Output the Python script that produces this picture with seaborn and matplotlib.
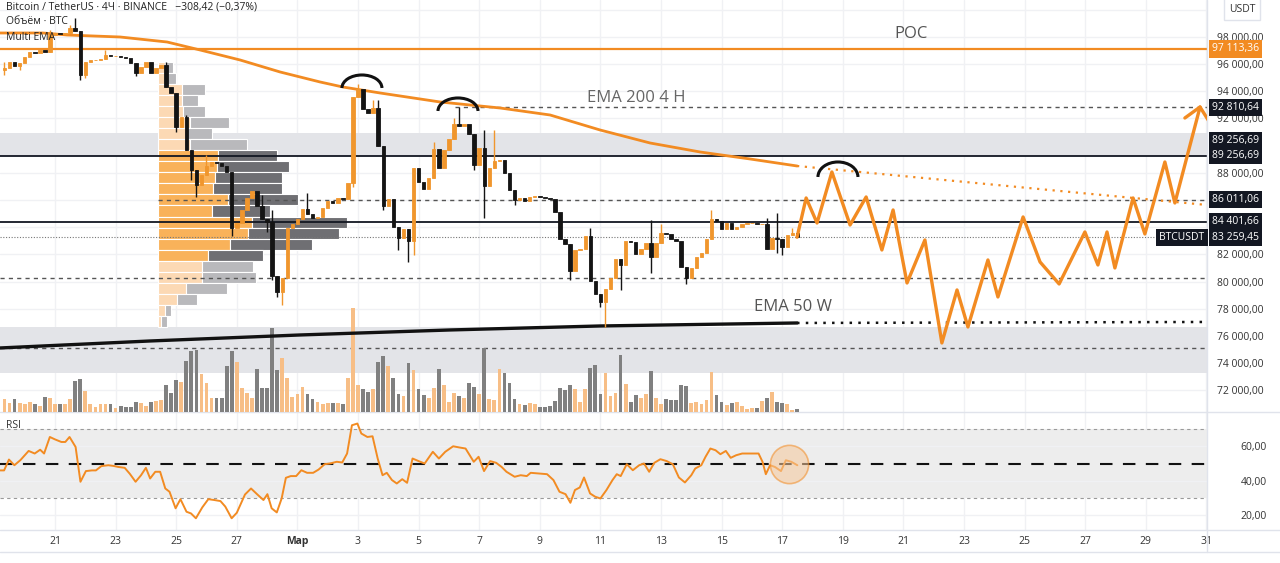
"""
BTC/USDT 4H chart with volume profile, EMAs, RSI and a projected path
"""

import numpy as np
import matplotlib
matplotlib.use('Agg')
import matplotlib.pyplot as plt
import seaborn as sns
from matplotlib.patches import Arc
from matplotlib.lines import Line2D

# ---------------- data ----------------
# time axis: days counted from Feb 0 (Mar 1 = 29)
start_day = 19 + 8 / 24          # first 4h candle
first_open = 95561

closes = [95708, 96149, 95855, 96076, 96517, 96885, 96811, 97032, 96885, 98135,
          98283, 98209, 98283, 98650, 98430, 95193, 96149, 96296, 96296, 96370,
          96664, 96591, 96591, 96517, 96444, 96076, 95340, 95782, 96149, 95340,
          95708, 95929, 94310, 93869, 91368, 92103, 89676, 88205, 87101, 87837,
          88499, 88793, 88720, 88499, 88058, 83938, 84306, 85262, 86145, 86660,
          85557, 84600, 84380, 80407, 79230, 80260, 83938, 84232, 84600, 85336,
          84968, 84674, 84748, 85410, 85925, 85778, 86145, 86071, 87248, 93575,
          94163, 92692, 92398, 92766, 89970, 85557, 86071, 84012, 83203, 83865,
          82982, 88352, 87322, 86807, 87616, 89750, 88352, 89676, 90485, 91589,
          91441, 91589, 90853, 88573, 89823, 87028, 88352, 88867, 88940, 87984,
          86734, 85998, 86145, 85925, 86218, 86292, 86218, 86145, 86071, 85115,
          83129, 82762, 80775, 82320, 82394, 83350, 80040, 79083, 78495, 79451,
          80260, 81658, 81217, 82982, 82908, 82026, 82394, 82835, 81805, 82835,
          83570, 83497, 83129, 82982, 81070, 80260, 80996, 81805, 82099, 83129,
          84600, 84453, 83865, 84306, 83865, 84012, 84232, 84306, 84306, 84232,
          84232, 82394, 83203, 83129, 82541, 83423, 83570, 83259.45]

# visible wicks: candle index -> (high, low); None = no wick on that side
wicks = {0: (96149, 95193), 3: (None, 95561), 9: (98503, None), 13: (98871, None),
         14: (99386, None), 15: (None, 94825), 16: (None, 94972), 20: (97032, None),
         26: (None, 95120), 32: (96149, None), 34: (None, 91000), 36: (92251, None),
         37: (None, 87469), 38: (None, 86218), 40: (89308, None), 45: (None, 83350),
         51: (86366, None), 52: (None, 83644), 53: (85262, 80113), 54: (None, 78863),
         55: (None, 78274), 60: (86513, None), 69: (None, 86955), 70: (94531, None),
         73: (93354, None), 74: (93354, None), 75: (None, 85262), 78: (None, 82320),
         80: (None, 81438), 81: (None, 81952), 85: (90264, None), 89: (92030, None),
         90: (92810.64, None), 92: (91368, None), 93: (None, 88205), 95: (91147, 84674),
         97: (91147, None), 101: (None, 85630), 112: (None, 80113), 116: (83938, None),
         118: (None, 78127), 119: (None, 76656), 122: (None, 79378), 128: (84527, 80628),
         130: (84232, None), 135: (None, 79819), 140: (85262, None), 151: (84674, None),
         153: (85042, 82099), 154: (None, 81952), 156: (83938, None)}

volumes = [1300, 900, 1300, 900, 800, 1000, 800, 600, 1500, 1400,
           800, 800, 800, 1300, 3100, 3300, 2100, 800, 500, 800,
           800, 800, 400, 600, 500, 500, 1000, 900, 600, 1000,
           1100, 1200, 2700, 1900, 3200, 3000, 5100, 6100, 6200, 3800,
           2900, 1400, 1400, 1400, 4600, 6100, 5000, 2400, 1900, 1400,
           4300, 2400, 2400, 8400, 4200, 5400, 3400, 1500, 1800, 2500,
           1800, 1300, 1000, 800, 900, 900, 900, 800, 3400, 10400,
           2700, 2300, 2000, 2300, 5000, 5600, 4600, 3400, 1800, 1600,
           4900, 4200, 2300, 1700, 1400, 2400, 4300, 2700, 1000, 1900,
           1600, 1400, 2900, 2500, 1800, 6400, 1300, 1200, 4300, 3900,
           2900, 1300, 800, 700, 900, 800, 500, 500, 600, 1100,
           2400, 2200, 2700, 2300, 1000, 2300, 4400, 4700, 1800, 3900,
           1600, 1900, 5700, 2800, 1000, 1700, 1400, 1800, 4100, 1400,
           800, 1300, 1200, 1200, 2700, 2600, 900, 1000, 800, 1200,
           4000, 1700, 1000, 700, 900, 1000, 600, 300, 400, 400,
           1100, 1400, 2000, 1000, 900, 800, 200, 300]

# fixed range volume profile (row bottoms, up / down volume)
vp_start = 24.40
vp_levels = [95337, 94525, 93713, 92901, 92089, 91277, 90465, 89652, 88840, 88028,
             87216, 86404, 85592, 84780, 83968, 83156, 82344, 81532, 80720, 79908,
             79095, 78283, 77471, 76659]
vp_up = [700, 700, 2400, 2400, 2500, 3200, 2900, 3200, 6000, 5900,
         5700, 5500, 7000, 5400, 9400, 9000, 7200, 5000, 4400, 4400,
         2800, 1900, 700, 300]
vp_down = [800, 1100, 2300, 1600, 2200, 3900, 2500, 5700, 5900, 7200,
           6700, 6900, 7000, 5800, 9500, 9100, 8200, 5500, 5100, 5400,
           4100, 2000, 600, 600]
vp_value_area = range(8, 18)

ema200_days = [19.18, 20.60, 21.40, 23.15, 24.70, 25.79, 27.11, 28.43, 29.75, 30.50,
               31.73, 33.71, 35.69, 37.34, 38.99, 40.64, 42.29, 43.94, 45.49]
ema200 = [98283, 98283, 98135, 97988, 97620, 97032, 96296, 95414, 94678, 94310,
          93869, 93207, 92765, 92250, 91147, 90190, 89529, 89014, 88499]
ema200_ext = [88499, 85630]

ema50w_days = [19.18, 24.14, 29.09, 34.04, 38.99, 45.49]
ema50w = [75110, 75625, 76067, 76435, 76729, 76950]
ema50w_ext = [76950, 77024]

rsi_days = [19.19, 19.32, 19.48, 19.66, 19.86, 20.13, 20.33, 20.51, 20.64, 20.83,
            21.00, 21.21, 21.34, 21.48, 21.68, 21.84, 22.02, 22.22, 22.35, 22.53,
            22.76, 22.93, 23.09, 23.30, 23.47, 23.66, 23.84, 24.00, 24.14, 24.31,
            24.47, 24.64, 24.78, 24.98, 25.14, 25.34, 25.49, 25.65, 25.86, 26.06,
            26.26, 26.46, 26.62, 26.83, 27.00, 27.27, 27.47, 27.68, 27.88, 28.01,
            28.15, 28.32, 28.48, 28.62, 28.78, 28.96, 29.13, 29.32, 29.52, 29.70,
            29.90, 30.07, 30.30, 30.48, 30.64, 30.80, 30.98, 31.11, 31.31, 31.48,
            31.65, 31.81, 31.95, 32.12, 32.28, 32.46, 32.62, 32.80, 33.00, 33.20,
            33.47, 33.67, 33.88, 34.14, 34.35, 34.55, 34.82, 34.98, 35.16, 35.36,
            35.56, 35.74, 35.90, 36.17, 36.37, 36.57, 36.70, 36.97, 37.24, 37.45,
            37.65, 37.85, 38.01, 38.16, 38.32, 38.46, 38.66, 38.83, 39.00, 39.20,
            39.40, 39.54, 39.67, 39.87, 40.07, 40.28, 40.44, 40.61, 40.78, 40.98,
            41.19, 41.39, 41.59, 41.79, 42.00, 42.13, 42.33, 42.47, 42.63, 42.80,
            42.96, 43.14, 43.30, 43.48, 43.68, 43.95, 44.22, 44.35, 44.46, 44.60,
            44.76, 44.96, 45.12, 45.30, 45.50]
rsi = [46, 46, 52.3, 49, 52, 57.3, 55.8, 58, 55.8, 65.4,
       64, 62.5, 62.5, 65.4, 59.6, 39.4, 45.6, 46, 46, 48.5,
       49, 48.6, 48, 47.5, 44, 39.4, 43.2, 47.5, 41.3, 45.2,
       45.2, 35.5, 33.6, 24, 29.3, 22, 21, 18.2, 24.5, 29.3,
       28.8, 28.2, 25, 18.2, 21.4, 32, 35.5, 32, 28.8, 32.2,
       24, 21.6, 29.7, 41.7, 42.7, 42.7, 46.1, 44.6, 44.6, 46.5,
       49.6, 50, 51, 50.6, 55.8, 72.2, 73.2, 67.4, 65.4, 65.8,
       52.9, 43.2, 44.6, 40.4, 38.4, 40.9, 38.8, 52.9, 51.4, 50,
       56.8, 52.9, 56.8, 60, 59.3, 58.7, 51, 53.9, 45.6, 51.4,
       50.4, 48, 45.2, 42.3, 43.2, 42.7, 44.6, 44.2, 43.8, 40.4,
       33.6, 32.2, 27.2, 34.6, 36.1, 41.9, 32.6, 30.7, 29.7, 34.6,
       40.4, 43.8, 42.7, 49.6, 46.1, 49, 50, 45.2, 50.4, 52.5,
       51.4, 49.6, 41.9, 39, 43.2, 47.1, 49, 53.9, 58.7, 57.7,
       55.4, 57.3, 53.3, 54.8, 55.8, 55.8, 55.8, 51, 43.8, 49,
       48, 45.6, 51.9, 51, 49]

# projected path drawn on the chart
path_days = [45.49, 45.79, 46.15, 46.64, 47.24, 47.77, 48.29, 48.66, 49.12, 49.71,
             50.27, 50.77, 51.13, 51.79, 52.12, 52.95, 53.51, 54.14, 54.99, 55.42,
             55.72, 55.98, 56.58, 56.97, 57.63, 57.96, 58.79, 59.12]
path_prices = [83259, 86145, 84306, 88058, 84159, 86218, 82320, 85262, 79893, 83056,
               75479, 79378, 76656, 81584, 78863, 84748, 81438, 79819, 83644, 81217,
               83644, 80996, 86145, 83497, 88793, 85777, 92839, 91661]

poc = 97113.36
res_high = 92810.64
zone_line = 89256.69
vp_poc = 86011.06
support = 84401.66
last_price = 83259.45
lower_dash = [80260, 75110]
bands = [(89256.69, 90927), (73272, 76656)]

price_ticks = [72000, 74000, 76000, 78000, 80000, 82000, 88000, 92000, 94000, 96000, 98000]
date_ticks = list(range(21, 60, 2))
date_labels = ['21', '23', '25', '27', 'Мар', '3', '5', '7', '9', '11', '13', '15',
               '17', '19', '21', '23', '25', '27', '29', '31']

# ---------------- styling ----------------
sns.set_theme(style='white')
plt.rcParams['font.family'] = ['Open Sans', 'DejaVu Sans']

ORANGE = '#f0962d'
LINE_ORANGE = '#f28b22'
DARK = '#131722'
GRID = '#f0f1f4'
SEP = '#e0e3eb'
BAND = '#e3e4e8'

W, H = 1280, 563
plot_w = 1207 / W
xlim = (19.185, 59.02)
ylim = (70400, 100710)

fig = plt.figure(figsize=(12.8, 5.63), dpi=100)
ax_p = fig.add_axes([0, 151 / H, plot_w, 412 / H])
ax_v = ax_p.twinx()
ax_c = fig.add_axes([0, 151 / H, plot_w, 412 / H], sharex=ax_p, sharey=ax_p)
ax_r = fig.add_axes([0, 33 / H, plot_w, 118 / H], sharex=ax_p)

ax_p.set_zorder(1)
ax_v.set_zorder(2)
ax_c.set_zorder(3)
for a in (ax_v, ax_c):
    a.patch.set_visible(False)
for a in (ax_p, ax_v, ax_c, ax_r):
    for s in a.spines.values():
        s.set_visible(False)

ax_p.set_xlim(*xlim)
ax_p.set_ylim(*ylim)

# ---- background layer: grid, bands, levels, volume profile ----
for d in date_ticks:
    ax_p.axvline(d, color=GRID, lw=1, zorder=0)
    ax_r.axvline(d, color=GRID, lw=1, zorder=0)
for p in range(72000, 100001, 2000):
    ax_p.axhline(p, color=GRID, lw=1, zorder=0)
for lo, hi in bands:
    ax_p.axhspan(lo, hi, color=BAND, lw=0, zorder=0.5)

for i, lvl in enumerate(vp_levels):
    in_va = i in vp_value_area
    c_up = '#f9b25a' if in_va else '#fcd9b4'
    c_dn = '#6f6f73' if in_va else '#b9b9bc'
    w_up = vp_up[i] / 3030
    w_dn = vp_down[i] / 3030
    ax_p.barh(lvl, w_up, height=812, left=vp_start, align='edge',
              color=c_up, edgecolor='white', linewidth=0.8, zorder=1)
    ax_p.barh(lvl, w_dn, height=812, left=vp_start + w_up, align='edge',
              color=c_dn, edgecolor='white', linewidth=0.8, zorder=1)

ax_p.axhline(poc, color=LINE_ORANGE, lw=1.6, zorder=2)
ax_p.axhline(zone_line, color=DARK, lw=1.3, zorder=2)
ax_p.axhline(support, color=DARK, lw=1.3, zorder=2)
ax_p.plot([34.2, xlim[1]], [res_high] * 2, color='#555', lw=1, ls=(0, (3, 3)), zorder=2)
ax_p.plot([vp_start, xlim[1]], [vp_poc] * 2, color='#555', lw=1, ls=(0, (3, 3)), zorder=2)
for p in lower_dash:
    ax_p.axhline(p, color='#555', lw=1, ls=(0, (3, 3)), zorder=2)
ax_p.axhline(last_price, color='#777', lw=0.8, ls=(0, (1, 1.5)), zorder=2)

# ---- volume layer ----
t = start_day + np.arange(len(closes)) / 6
opens = [first_open] + closes[:-1]
is_up = [c >= o for o, c in zip(opens, closes)]
vol_colors = ['#f7be86' if u else '#808080' for u in is_up]
ax_v.bar(t, volumes, width=0.125, color=vol_colors, linewidth=0)
ax_v.set_ylim(0, 41200)

# ---- candles, EMAs, drawings ----
cndl_colors = [ORANGE if u else '#141414' for u in is_up]
bodies = np.array(closes) - np.array(opens)
ax_c.bar(t, bodies, bottom=opens, width=0.115, color=cndl_colors,
         edgecolor=cndl_colors, linewidth=0.6, zorder=4)
for i, (hi, lo) in wicks.items():
    top = hi if hi is not None else max(opens[i], closes[i])
    bot = lo if lo is not None else min(opens[i], closes[i])
    ax_c.vlines(t[i], bot, top, color=cndl_colors[i], lw=1, zorder=3.9)

sns.lineplot(x=ema200_days, y=ema200, ax=ax_c, color=LINE_ORANGE, lw=2,
             estimator=None, sort=False, zorder=3)
ax_c.plot([ema200_days[-1], xlim[1]], ema200_ext, color=LINE_ORANGE, lw=1.6,
          ls=(0, (1, 2.5)), zorder=3)
sns.lineplot(x=ema50w_days, y=ema50w, ax=ax_c, color='#111', lw=2.4,
             estimator=None, sort=False, zorder=3)
ax_c.plot([ema50w_days[-1], xlim[1]], ema50w_ext, color='#111', lw=1.8,
          ls=(0, (1, 2.5)), zorder=3)

sns.lineplot(x=path_days, y=path_prices, ax=ax_c, color=LINE_ORANGE, lw=2.4,
             estimator=None, sort=False, zorder=5)
ax_c.plot([58.29, 58.79], [92030, 92839], color=LINE_ORANGE, lw=2.4, zorder=5,
          solid_capstyle='round')

for cx, cy, hgt in [(31.13, 94237, 1913), (34.30, 92545, 1913), (46.84, 87690, 2207)]:
    ax_c.add_patch(Arc((cx, cy), 1.32, hgt, theta1=0, theta2=180, color='#111',
                       lw=2.2, zorder=6))

ax_c.text(49.25, 98209, 'POC', color='#555', fontsize=12, ha='center', va='center')
ax_c.text(40.17, 93501, 'EMA 200 4 H', color='#666', fontsize=12, ha='center', va='center')
ax_c.text(45.36, 78127, 'EMA 50 W', color='#555', fontsize=12, ha='center', va='center')

# right price scale
ax_c.yaxis.tick_right()
ax_c.set_yticks(price_ticks)
ax_c.set_yticklabels([f'{p:,.2f}'.replace(',', ' ').replace('.', ',') for p in price_ticks])
ax_c.tick_params(axis='y', length=0, pad=7, labelsize=7.5, labelcolor='#333')


def price_box(y, text, fc):
    ax_c.text(1.004, y, text, transform=ax_c.get_yaxis_transform(), color='white',
              fontsize=7.5, ha='left', va='center', zorder=10, clip_on=False,
              bbox=dict(boxstyle='square,pad=0.3', fc=fc, ec='none'))


def fmt(p):
    return f'{p:,.2f}'.replace(',', ' ').replace('.', ',')


price_box(poc, fmt(poc), LINE_ORANGE)
price_box(res_high, fmt(res_high), DARK)
price_box(90338, fmt(zone_line), DARK)
price_box(zone_line, fmt(zone_line), DARK)
price_box(vp_poc, fmt(vp_poc), DARK)
price_box(support, fmt(support), DARK)
price_box(last_price, fmt(last_price), DARK)
ax_c.text(0.998, last_price, 'BTCUSDT', transform=ax_c.get_yaxis_transform(),
          color='white', fontsize=7.5, ha='right', va='center', zorder=10,
          bbox=dict(boxstyle='square,pad=0.3', fc=DARK, ec='none'))

# ---- RSI panel ----
ax_r.set_ylim(11.4, 79.9)
ax_r.axhspan(30, 70, color='#ededed', lw=0, zorder=0)
for p in (20, 40, 60):
    ax_r.axhline(p, color=GRID, lw=1, zorder=0.5)
ax_r.axhline(70, color='#9a9a9a', lw=0.8, ls=(0, (3, 3)), zorder=1)
ax_r.axhline(30, color='#9a9a9a', lw=0.8, ls=(0, (3, 3)), zorder=1)
ax_r.axhline(50, color='#111', lw=1.5, ls=(0, (6, 5)), zorder=1)
sns.lineplot(x=rsi_days, y=rsi, ax=ax_r, color=LINE_ORANGE, lw=1.4,
             estimator=None, sort=False, zorder=3)
ax_r.scatter([45.24], [49.8], s=760, facecolor='#f6c89a', edgecolor=LINE_ORANGE,
             alpha=0.55, lw=1.2, zorder=4)
ax_r.set_ylabel('')
ax_r.yaxis.tick_right()
ax_r.set_yticks([20, 40, 60])
ax_r.set_yticklabels(['20,00', '40,00', '60,00'])
ax_r.tick_params(axis='y', length=0, pad=24, labelsize=7.5, labelcolor='#333')
ax_r.set_xticks(date_ticks)
ax_r.set_xticklabels(date_labels)
ax_r.tick_params(axis='x', length=0, pad=4.5, labelsize=7.5, labelcolor='#333')
ax_r.get_xticklabels()[4].set_fontweight('bold')
ax_r.set_xlim(*xlim)
ax_r.text(0.005, 0.93, 'RSI', transform=ax_r.transAxes, fontsize=7.5, color='#333',
          va='top')

# hide the ticks of the stacked price layers (only the right scale stays)
for a in (ax_p, ax_v):
    a.tick_params(axis='both', which='both', bottom=False, labelbottom=False,
                  left=False, labelleft=False, right=False, labelright=False)
    a.set_ylabel('')
ax_c.tick_params(axis='x', which='both', bottom=False, labelbottom=False)
ax_c.set_ylabel('')

# ---- header texts ----
fig.text(6 / W, 1 - 7 / H, 'Bitcoin / TetherUS · 4Ч · BINANCE   −308,42 (−0,37%)',
         fontsize=7.5, color='#222', va='center')
fig.text(6 / W, 1 - 21 / H, 'Объём · BTC', fontsize=7.5, color='#222', va='center')
fig.text(6 / W, 1 - 37 / H, 'Multi EMA', fontsize=7.5, color='#222', va='center')
fig.text(1242 / W, 1 - 9 / H, 'USDT', fontsize=7.5, color='#333', ha='center',
         va='center', bbox=dict(boxstyle='square,pad=0.5', fc='white', ec=SEP))

# panel separators
for y in (412, 530, 552):
    fig.add_artist(Line2D([0, 1], [1 - y / H] * 2, transform=fig.transFigure,
                          color=SEP, lw=1))
fig.add_artist(Line2D([plot_w, plot_w], [1 - 552 / H, 1], transform=fig.transFigure,
                      color=SEP, lw=1))

fig.savefig('out.png', dpi=100)
